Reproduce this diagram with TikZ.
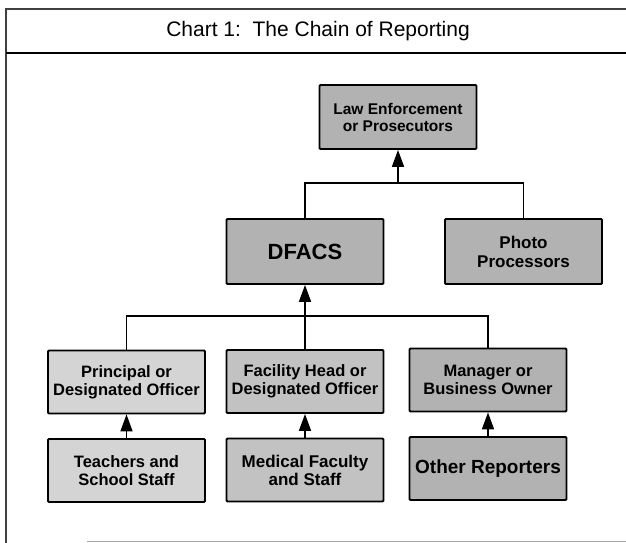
\documentclass[tikz,border=0pt]{standalone}
\usepackage{fontspec}
\setmainfont{Liberation Sans}
\usetikzlibrary{arrows.meta}
\definecolor{gdark}{gray}{0.70}
\definecolor{gmid}{gray}{0.76}
\definecolor{glight}{gray}{0.83}
\begin{document}
\begin{tikzpicture}[x=1pt,y=-1pt,
  box/.style={draw=black, line width=1.8pt, rounded corners=1pt, minimum width=157pt,
    minimum height=63pt, inner sep=0pt, align=center,
    font=\bfseries\fontsize{16.5}{18}\selectfont},
  conn/.style={draw=black, line width=1.6pt},
  arr/.style={conn, -{Triangle[length=17pt,width=12pt]}},
  frameline/.style={draw=black!75, line width=1.3pt}]
\useasboundingbox (0,0) rectangle (626,543);
% frame
\coordinate (ftl) at (6,9);
\coordinate (ftr) at (626,9);
\coordinate (fbl) at (6,543);
\coordinate (tl) at (6,53);
\coordinate (tr) at (626,53);
\coordinate (bl) at (87,541);
\coordinate (br) at (626,541);
\draw[frameline] (fbl) -- (ftl) -- (ftr);
\draw[draw=black, line width=2pt] (tl) -- (tr);
\draw[draw=black!35, line width=1pt] (bl) -- (br);
\node[font=\fontsize{21}{24}\selectfont, inner sep=0pt] (title) at (318,31) {Chart 1:\ \ The Chain of Reporting};
% boxes
\node[box, fill=gdark, minimum height=64pt, font=\bfseries\fontsize{15.5}{17}\selectfont] (law) at (398,117) {Law Enforcement\\or Prosecutors};
\node[box, fill=gdark, minimum height=65pt, font=\bfseries\fontsize{22}{24}\selectfont] (dfacs) at (305,251.5) {DFACS};
\node[box, fill=gdark, minimum height=65pt, font=\bfseries\fontsize{17}{19}\selectfont] (photo) at (523.5,251.5) {Photo\\Processors};
\node[box, fill=glight] (prin) at (126.5,382) {Principal or\\Designated Officer};
\node[box, fill=gmid] (fac) at (305,381.5) {Facility Head or\\Designated Officer};
\node[box, fill=gdark] (mgr) at (488,380) {Manager or\\Business Owner};
\node[box, fill=glight] (teach) at (126.5,470.5) {Teachers and\\School Staff};
\node[box, fill=gmid, font=\bfseries\fontsize{17}{18}\selectfont] (med) at (305,470) {Medical Faculty\\and Staff};
\node[box, fill=gdark, font=\bfseries\fontsize{19}{20}\selectfont] (oth) at (488,468.5) {Other Reporters};
% connectors
\coordinate (j1) at (398,183);
\coordinate (j2) at (305,316);
\draw[conn] (dfacs.north) |- (j1) -| (photo.north);
\draw[arr] (j1) -- (law.south);
\draw[conn] (prin.north) |- (j2) -| (mgr.north);
\draw[conn] (fac.north) -- (j2);
\draw[arr] (j2) -- (dfacs.south);
\draw[arr] (teach.north) -- (prin.south);
\draw[arr] (med.north) -- (fac.south);
\draw[arr] (oth.north) -- (mgr.south);
\end{tikzpicture}
\end{document}
